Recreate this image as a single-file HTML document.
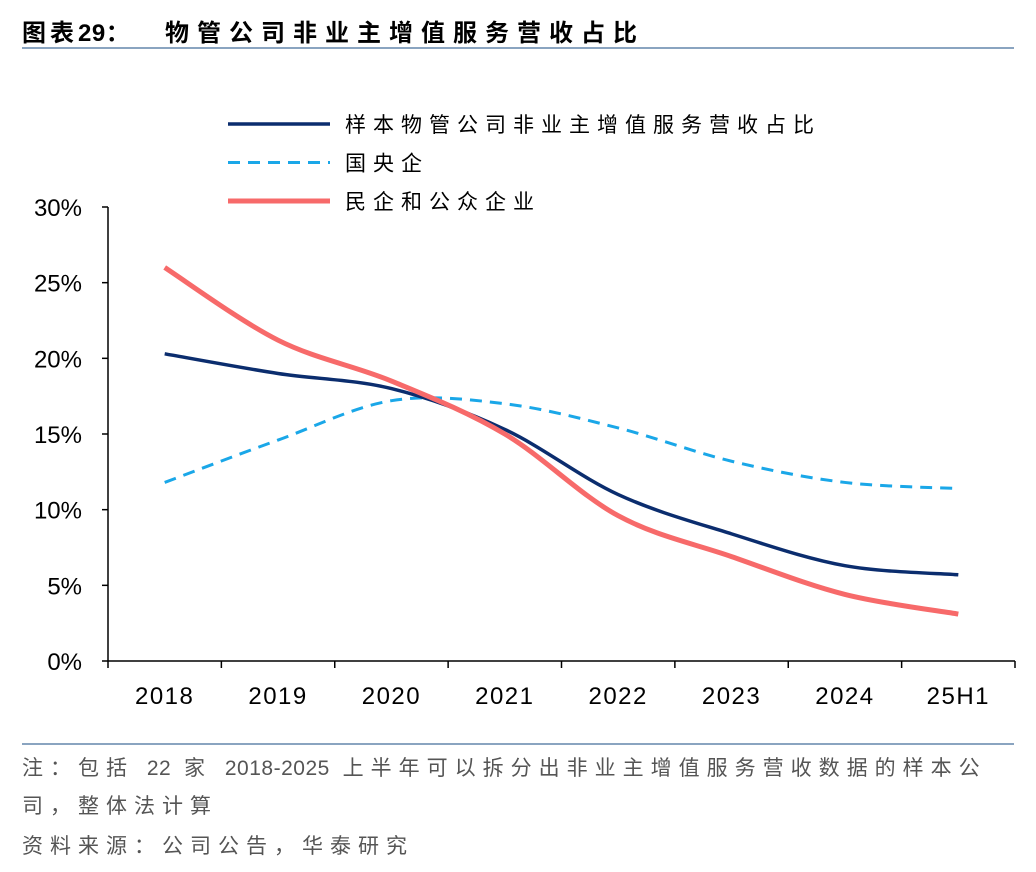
<!DOCTYPE html>
<html><head><meta charset="utf-8">
<style>
body{margin:0;background:#fff;width:1036px;height:872px;overflow:hidden;font-family:"Liberation Sans","Noto Sans CJK SC",sans-serif;}
.title{position:absolute;top:13px;font-size:24px;font-weight:bold;color:#000;white-space:pre;}
.rule{position:absolute;left:22px;width:992px;height:2px;background:#8aa4c0;}
.note{position:absolute;left:22px;font-size:21px;color:#555;letter-spacing:7px;line-height:38px;white-space:nowrap;}
.n{letter-spacing:0.5px;}
</style></head><body>
<div class="title" style="left:22px;letter-spacing:4px">图表<span class="n">29</span>：</div>
<div class="title" style="left:165px;letter-spacing:8px">物管公司非业主增值服务营收占比</div>
<div class="rule" style="top:47px"></div>
<svg id="chart" width="1036" height="872" style="position:absolute;left:0;top:0"></svg>
<div class="rule" style="top:743px"></div>
<div class="note" style="top:750px">注：包括 <span class="n">22</span> 家 <span class="n">2018-2025</span> 上半年可以拆分出非业主增值服务营收数据的样本公<br>司，整体法计算</div>
<div class="note" style="top:828px">资料来源：公司公告，华泰研究</div>
<script>
const categories=["2018","2019","2020","2021","2022","2023","2024","25H1"];
const sampleVals=[20.3,19.0,18.0,15.3,11.0,8.4,6.3,5.7];
const soeVals=[11.8,14.6,17.2,17.0,15.4,13.2,11.8,11.4];
const privateVals=[26.0,21.2,18.5,15.0,9.6,6.9,4.4,3.1];
const yTicks=[0,5,10,15,20,25,30];
const seriesNames=["样本物管公司非业主增值服务营收占比","国央企","民企和公众企业"];
const svg=document.getElementById('chart');
const NS='http://www.w3.org/2000/svg';
const x0=108,x1=1015,y0=661,y1=207;
const step=(x1-x0)/categories.length;
const xs=i=>x0+step*(i+0.5);
const ys=v=>y0-(v/30)*(y0-y1);
function mk(t,a){const e=document.createElementNS(NS,t);for(const k in a)e.setAttribute(k,a[k]);svg.appendChild(e);return e;}
let ax=mk('line',{x1:x0,y1:y1,x2:x0,y2:y0,stroke:'#000','stroke-width':1.5});


let bx=mk('line',{x1:x0,y1:y0,x2:x1,y2:y0,stroke:'#000','stroke-width':1.5});


yTicks.forEach(v=>{
 const y=ys(v);
 mk('line',{x1:x0-6,y1:y,x2:x0,y2:y,stroke:'#000','stroke-width':1.5});
 const t=mk('text',{x:x0-26,y:y+9,'text-anchor':'end','font-size':24,fill:'#000'});
 t.textContent=v+'%';
 
 
});
for(let i=0;i<=categories.length;i++){
 const x=x0+step*i;
 mk('line',{x1:x,y1:y0,x2:x,y2:y0+7,stroke:'#000','stroke-width':1.5});
}
categories.forEach((c,i)=>{
 const t=mk('text',{x:xs(i),y:y0+43,'text-anchor':'middle','font-size':24,'letter-spacing':1.5,fill:'#000'});
 t.textContent=c;
 
 
});
function pathFor(vals){
 const p=vals.map((v,i)=>[xs(i),ys(v)]);
 let d='M'+p[0][0]+','+p[0][1];
 for(let i=0;i<p.length-1;i++){
  const a=p[Math.max(0,i-1)],b=p[i],c=p[i+1],e=p[Math.min(p.length-1,i+2)];
  const c1=[b[0]+(c[0]-a[0])/6,b[1]+(c[1]-a[1])/6],c2=[c[0]-(e[0]-b[0])/6,c[1]-(e[1]-b[1])/6];
  d+=' C'+c1+' '+c2+' '+c;
 }
 return d;
}
const styles=[{c:'#0b2d6e',w:3.5,dash:''},{c:'#1aa7e8',w:3,dash:'12,8'},{c:'#f76a6a',w:5,dash:''}];
[soeVals,sampleVals,privateVals].forEach((vals,k)=>{
 const idx=[1,0,2][k];const s=styles[idx];
 const p=mk('path',{d:pathFor(vals),fill:'none',stroke:s.c,'stroke-width':s.w,'stroke-dasharray':s.dash});
 
 
});
seriesNames.forEach((n,i)=>{
 const y=124+i*38.5,s=styles[i];
 const l=mk('line',{x1:228,y1:y,x2:330,y2:y,stroke:s.c,'stroke-width':s.w,'stroke-dasharray':s.dash});
 
 
 const t=mk('text',{x:345,y:y+8,'font-size':21,fill:'#000','letter-spacing':7});
 t.textContent=n;
 
 
});
</script>
</body></html>
